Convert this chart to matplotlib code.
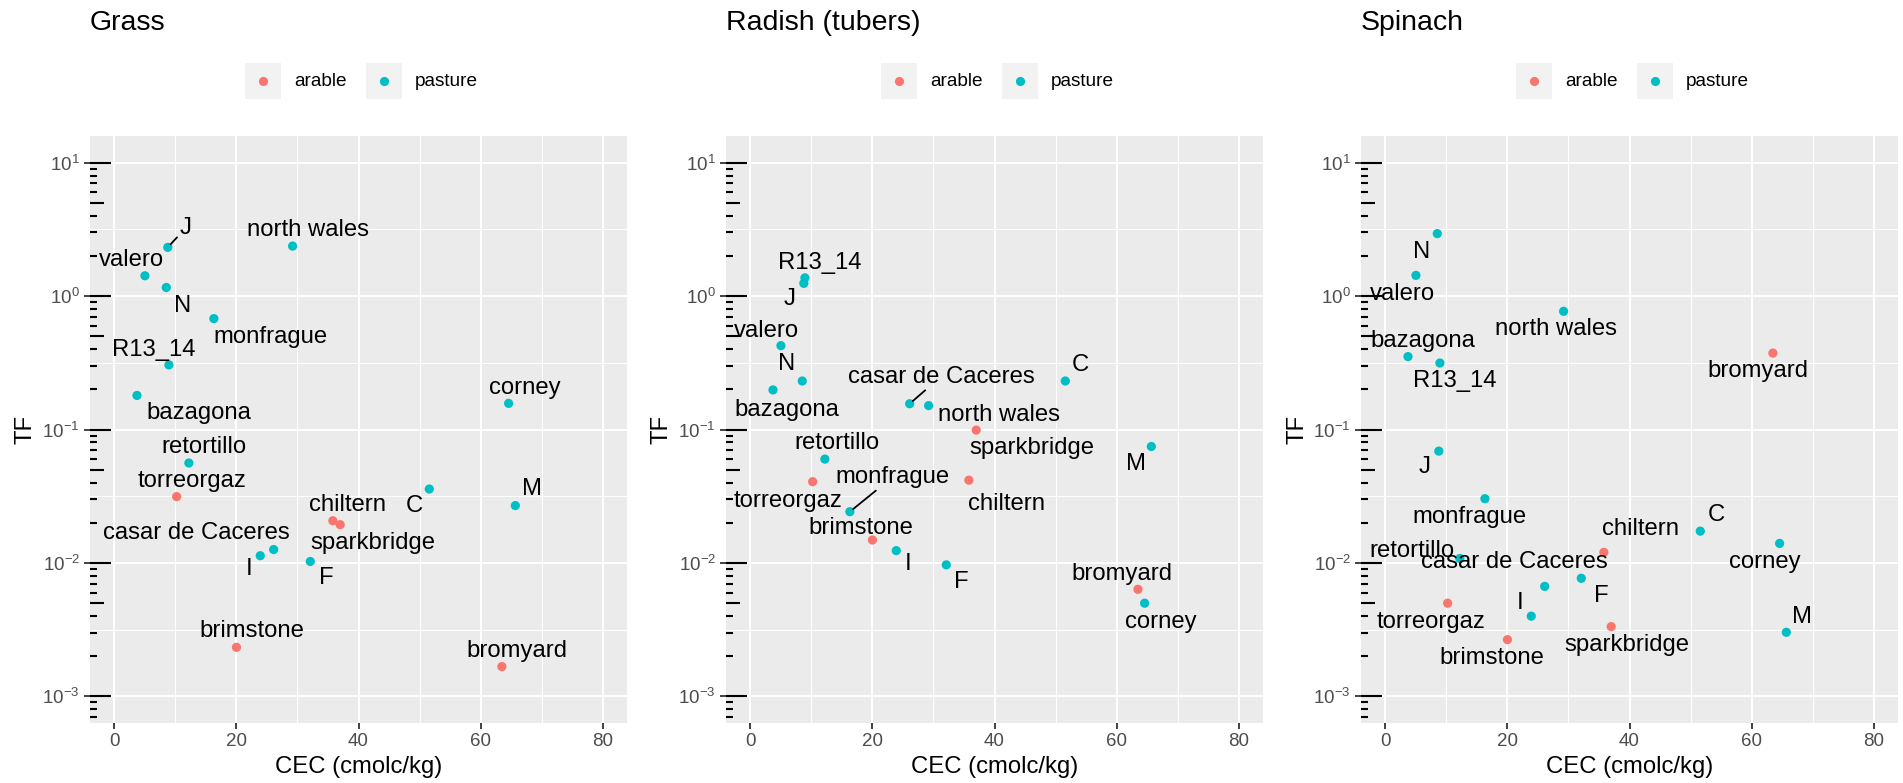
import numpy as np
import matplotlib
matplotlib.use("Agg")
import matplotlib.pyplot as plt
from matplotlib.patches import Rectangle
from matplotlib.lines import Line2D
from matplotlib.ticker import FixedLocator, NullFormatter

plt.rcParams['font.family'] = ['Liberation Sans', 'DejaVu Sans']
plt.rcParams['mathtext.fontset'] = 'custom'
plt.rcParams['mathtext.rm'] = 'Liberation Sans'
plt.rcParams['mathtext.it'] = 'Liberation Sans:italic'
plt.rcParams['mathtext.bf'] = 'Liberation Sans:bold'

# ---------------- data ----------------
sites = ["bazagona", "valero", "N", "J", "R13_14", "torreorgaz", "retortillo",
         "monfrague", "brimstone", "I", "casar de Caceres", "north wales", "F",
         "chiltern", "sparkbridge", "C", "bromyard", "corney", "M"]
land_use = ["pasture", "pasture", "pasture", "pasture", "pasture", "arable", "pasture",
            "pasture", "arable", "pasture", "pasture", "pasture", "pasture",
            "arable", "arable", "pasture", "arable", "pasture", "pasture"]
cec = [3.7, 5.0, 8.5, 8.75, 8.93, 10.2, 12.2, 16.3, 20.0, 23.9, 26.1, 29.2, 32.1,
       35.8, 37.0, 51.6, 63.5, 64.6, 65.7]

grass_tf = [0.18, 1.42, 1.16, 2.32, 0.305, 0.0314, 0.0561, 0.678, 0.00233, 0.01132,
            0.0126, 2.37, 0.01025, 0.0207, 0.01935, 0.0358, 0.00167, 0.157, 0.0269]
radish_tf = [0.198, 0.425, 0.231, 1.246, 1.37, 0.0406, 0.060, 0.0242, 0.01485, 0.01236,
             0.156, 0.151, 0.00967, 0.0417, 0.099, 0.231, 0.00634, 0.00499, 0.0746]
spinach_tf = [0.352, 1.43, 2.94, 0.0689, 0.315, 0.00499, 0.0108, 0.0303, 0.00266, 0.00399,
              0.00667, 0.769, 0.00767, 0.012, 0.00333, 0.0173, 0.374, 0.014, 0.00302]

plant_titles = ["Grass", "Radish (tubers)", "Spinach"]
land_levels = ["arable", "pasture"]
x_ticks = [0, 20, 40, 60, 80]
y_ticks = [1e-3, 1e-2, 1e-1, 1e0, 1e1]
y_tick_labels = [r"$10^{-3}$", r"$10^{-2}$", r"$10^{-1}$", r"$10^{0}$", r"$10^{1}$"]

# ---------------- layout / style (label offsets in pixels, y downwards) ----------------
grass_off = {"J": (18.0, -19.5), "north wales": (15.5, -16.1), "valero": (-13.9, -16.1),
             "N": (15.9, 18.8), "monfrague": (57.1, 18.0), "R13_14": (-15.5, -15.3),
             "bazagona": (61.6, 18.0), "corney": (15.9, -15.3), "retortillo": (15.5, -16.1),
             "torreorgaz": (15.9, -15.7), "C": (-15.1, 16.8), "M": (16.3, -16.8),
             "chiltern": (15.1, -15.3), "sparkbridge": (32.2, 18.4),
             "casar de Caceres": (-77.6, -16.1), "I": (-11.4, 13.0), "F": (15.9, 16.8),
             "brimstone": (15.5, -16.1), "bromyard": (15.5, -15.7)}
radish_off = {"R13_14": (15.1, -14.5), "J": (-13.9, 15.3), "valero": (-14.7, -14.9),
              "N": (-15.5, -16.8), "bazagona": (14.3, 19.9), "C": (15.1, -15.7),
              "casar de Caceres": (31.4, -27.2), "north wales": (70.2, 9.2),
              "sparkbridge": (55.5, 18.0), "M": (-15.1, 17.2), "retortillo": (11.8, -16.1),
              "torreorgaz": (-24.5, 19.1), "chiltern": (37.6, 24.1), "monfrague": (42.9, -34.8),
              "brimstone": (-11.4, -12.2), "I": (11.8, 13.4), "F": (15.1, 17.2),
              "bromyard": (-15.5, -15.7), "corney": (15.9, 19.1)}
spinach_off = {"N": (-15.7, 18.0), "valero": (-13.7, 18.8), "north wales": (-7.3, 18.0),
               "bromyard": (-14.9, 18.4), "bazagona": (15.3, -15.3), "R13_14": (15.3, 18.4),
               "J": (-13.7, 16.1), "monfrague": (-15.3, 18.0), "C": (15.7, -16.1),
               "corney": (-15.3, 18.8), "chiltern": (36.3, -23.0), "retortillo": (-48.0, -7.7),
               "F": (19.8, 17.6), "casar de Caceres": (-29.9, -24.1), "torreorgaz": (-16.1, 18.4),
               "I": (-10.9, -13.0), "sparkbridge": (15.3, 18.4), "M": (15.7, -15.7),
               "brimstone": (-15.7, 18.4)}
segments = [["J"], ["casar de Caceres", "monfrague"], []]

colors = {"arable": "#F8766D", "pasture": "#00BFC4"}
W, H = 1903, 783
fig = plt.figure(figsize=(W / 100, H / 100), dpi=100)

panel_left = [90, 726, 1361]
panel_w, panel_top, panel_bot = 537, 136, 723

for i, (title, tf, offs) in enumerate(zip(plant_titles,
                                          [grass_tf, radish_tf, spinach_tf],
                                          [grass_off, radish_off, spinach_off])):
    L = panel_left[i]
    ax = fig.add_axes([L / W, (H - panel_bot) / H, panel_w / W, (panel_bot - panel_top) / H])
    ax.set_facecolor("#EBEBEB")
    for s in ax.spines.values():
        s.set_visible(False)
    ax.set_yscale("log")
    ax.set_xlim(-4, 84)
    ax.set_ylim(10 ** -3.2, 10 ** 1.2)
    ax.xaxis.set_major_locator(FixedLocator(x_ticks))
    ax.xaxis.set_minor_locator(FixedLocator([10, 30, 50, 70]))
    ax.yaxis.set_major_locator(FixedLocator(y_ticks))
    ax.yaxis.set_minor_locator(FixedLocator([10 ** (k + 0.5) for k in range(-4, 2)]))
    ax.yaxis.set_minor_formatter(NullFormatter())
    ax.set_yticklabels(y_tick_labels)
    ax.set_xticklabels([str(t) for t in x_ticks])
    ax.grid(which="major", color="white", linewidth=1.5)
    ax.grid(which="minor", color="white", linewidth=0.75)
    ax.set_axisbelow(True)
    ax.tick_params(which="major", length=4.3, width=1.3, color="#333333",
                   labelsize=13.5, labelcolor="#4D4D4D", pad=3)
    ax.tick_params(which="minor", length=0)

    # log ticks (annotation_logticks style)
    frac = 1.0 / panel_w
    for k in range(-4, 2):
        for m in range(1, 10):
            v = m * 10.0 ** k
            if not (10 ** -3.2 <= v <= 10 ** 1.2):
                continue
            ln = 21 if m == 1 else (14 if m == 5 else 7)
            ax.plot([0, ln * frac], [v, v], transform=ax.get_yaxis_transform(),
                    color="black", linewidth=1.5, solid_capstyle="butt", zorder=2,
                    clip_on=False)

    for lu in land_levels:
        xs = [c for c, l in zip(cec, land_use) if l == lu]
        ys = [t for t, l in zip(tf, land_use) if l == lu]
        ax.scatter(xs, ys, s=44, color=colors[lu], edgecolors="none", zorder=3)

    for name, x, y in zip(sites, cec, tf):
        dx, dy = offs[name]
        kw = {}
        if name in segments[i]:
            kw["arrowprops"] = dict(arrowstyle="-", color="black", lw=1.3,
                                    shrinkA=0, shrinkB=3)
        ax.annotate(name, (x, y), xytext=(dx * 0.72, -dy * 0.72),
                    textcoords="offset points", ha="center", va="center",
                    fontsize=17.2, color="black", zorder=4, annotation_clip=False, **kw)

    ax.set_xlabel("CEC (cmolc/kg)", fontsize=17.2, color="black")
    ax.xaxis.set_label_coords(0.5, -0.056)
    ax.set_ylabel("TF", fontsize=17.2, color="black")
    ax.yaxis.label.set_va("center")
    ax.yaxis.set_label_coords(-64 / panel_w, 0.5)

    # title
    fig.text(L / W, 1 - 30 / H, title, fontsize=20.5, ha="left", va="baseline")

    # legend
    kx = [L + 155, L + 276]
    tx = [L + 204.6, L + 325]
    for j, lu in enumerate(land_levels):
        fig.add_artist(Rectangle((kx[j] / W, 1 - 99 / H), 36 / W, 36 / H,
                                 transform=fig.transFigure, facecolor="#F2F2F2",
                                 edgecolor="none"))
        fig.add_artist(Line2D([(kx[j] + 18) / W], [1 - 81 / H], marker="o",
                              markersize=6.6, color=colors[lu], markeredgewidth=0,
                              linestyle="none", transform=fig.transFigure))
        fig.text(tx[j] / W, 1 - 81 / H, lu, fontsize=13.7, ha="left", va="center")

fig.savefig("out.png", dpi=100)
